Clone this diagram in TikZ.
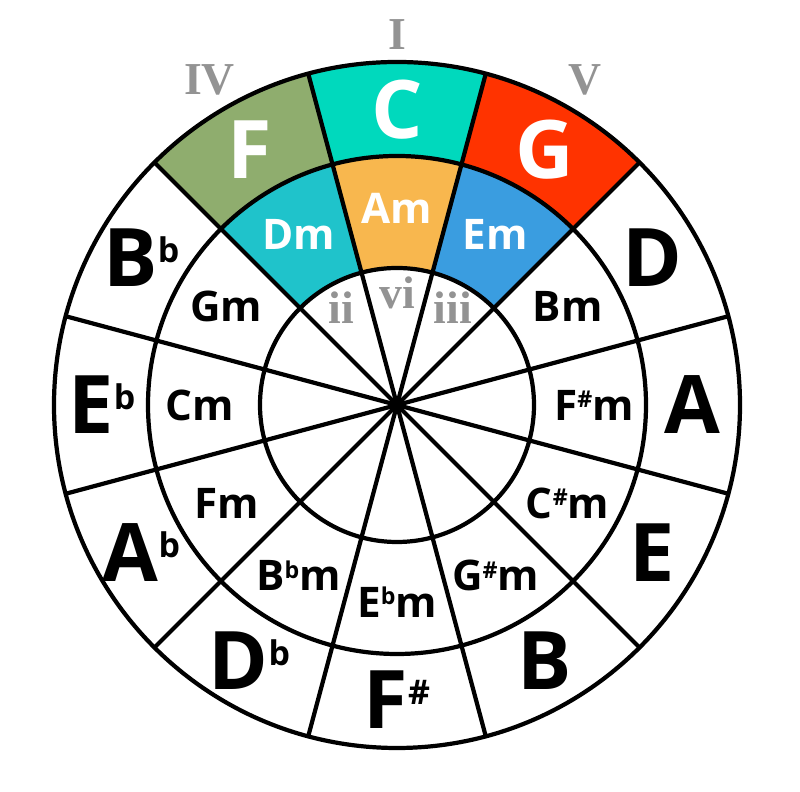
\documentclass[tikz,border=0pt]{standalone}
\usepackage{fontspec}
\setmainfont{Open Sans}
\newfontfamily\romanfont{Liberation Serif}
\usepackage{graphicx}
\definecolor{fourthbg}{HTML}{8FAD6E}
\definecolor{tonicbg}{HTML}{00D9BD}
\definecolor{fifthbg}{HTML}{FF3300}
\definecolor{secondbg}{HTML}{1FC3CB}
\definecolor{sixthbg}{HTML}{F8B74E}
\definecolor{thirdbg}{HTML}{3A9DE0}
\definecolor{degreegray}{HTML}{939393}
\newcommand{\acc}[2][0.42]{\raisebox{0.3em}{\scalebox{#1}{#2}}}
\newcommand{\ringcell}[5]{\fill[#1] (#2:#4) arc[start angle=#2,end angle=#3,radius=#4]
  -- (#3:#5) arc[start angle=#3,end angle=#2,radius=#5] -- cycle;}

\begin{document}
\begin{tikzpicture}[line width=1.2pt,
  major/.style={font=\fontsize{23}{23}\selectfont\bfseries,inner sep=0pt},
  minor/.style={font=\fontsize{12}{12}\selectfont\bfseries,inner sep=0pt},
  degree/.style={font=\romanfont\bfseries\fontsize{13}{13}\selectfont,text=degreegray,inner sep=0pt}]
  \useasboundingbox (-3.97,-3.87) rectangle (4.03,4.05);
  \coordinate (o) at (0,0);
  % coloured cells
  \ringcell{fourthbg}{105}{135}{2.49}{3.43}
  \ringcell{tonicbg}{75}{105}{2.49}{3.43}
  \ringcell{fifthbg}{45}{75}{2.49}{3.43}
  \ringcell{secondbg}{105}{135}{1.37}{2.49}
  \ringcell{sixthbg}{75}{105}{1.37}{2.49}
  \ringcell{thirdbg}{45}{75}{1.37}{2.49}
  % rings and spokes
  \draw (o) circle[radius=3.43];
  \draw (o) circle[radius=2.49];
  \draw (o) circle[radius=1.37];
  \foreach \a in {15,45,...,345}
    \draw (o) -- (\a:3.43);
  % major keys
  \foreach \a/\t/\c [count=\i] in {90/C/white,60/G/white,120/F/white,
      30/D/black,0/A/black,-30/E/black,-60/B/black,-90/{F\acc[0.42]{\#}}/black,
      -120/{D\acc{b}}/black,-150/{A\acc{b}}/black,180/{E\acc{b}}/black,150/{B\acc{b}}/black}
    \node[major,text=\c] (maj\i) at (\a:2.95) {\t};
  % minor keys
  \foreach \a/\t/\c [count=\i] in {90/Am/white,60/Em/white,120/Dm/white,
      30/Bm/black,0/{F\acc[0.55]{\#}m}/black,-30/{C\acc[0.55]{\#}m}/black,
      -60/{G\acc[0.55]{\#}m}/black,-90/{E\acc[0.55]{b}m}/black,-120/{B\acc[0.55]{b}m}/black,
      -150/Fm/black,180/Cm/black,150/Gm/black}
    \node[minor,text=\c] (min\i) at (\a:1.97) {\t};
  % scale degrees
  \node[degree] (deg1) at (90:3.70) {I};
  \node[degree] (deg4) at (120:3.75) {IV};
  \node[degree] (deg5) at (60:3.75) {V};
  \node[degree] (deg6) at (90:1.12) {vi};
  \node[degree] (deg2) at (120:1.12) {ii};
  \node[degree] (deg3) at (60:1.12) {iii};
\end{tikzpicture}
\end{document}
